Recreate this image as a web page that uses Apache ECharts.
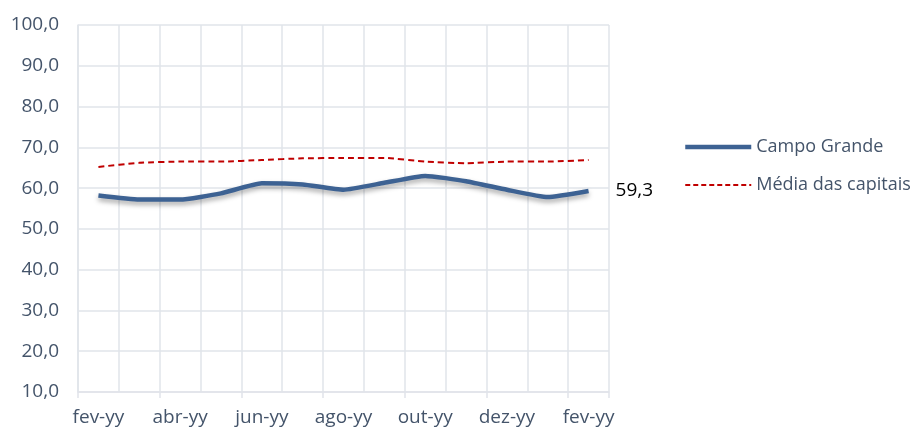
<!DOCTYPE html>
<html><head><meta charset="utf-8">
<script src="https://cdn.jsdelivr.net/npm/echarts@6/dist/echarts.min.js"></script>
<style>html,body{margin:0;padding:0;background:#fff}#c{width:914px;height:430px}</style>
</head><body><div id="c"></div>
<script>
const categories = ['fev-yy','mar-yy','abr-yy','mai-yy','jun-yy','jul-yy','ago-yy','set-yy','out-yy','nov-yy','dez-yy','jan-yy','fev-yy'];
const campoGrande = [58.2, 57.2, 57.2, 58.7, 61.2, 60.9, 59.6, 61.3, 63.0, 61.7, 59.6, 57.8, 59.3];
const mediaCapitais = [65.2, 66.2, 66.5, 66.5, 66.9, 67.3, 67.4, 67.4, 66.5, 66.1, 66.5, 66.5, 66.9];
const yTicks = {min: 10, max: 100, interval: 10};
const fmt = v => Number(v).toFixed(1).replace('.', ',');
const axisColor = '#44546a';
const gridColor = '#e1e4ea';
const chart = echarts.init(document.getElementById('c'));
chart.setOption({
  animation: false,
  textStyle: {fontFamily: 'Open Sans'},
  grid: {left: 78, right: 305, top: 25, bottom: 38, containLabel: false},
  legend: {
    orient: 'vertical', left: 678, top: 133, itemGap: 20,
    itemWidth: 66, itemHeight: 20,
    itemStyle: {opacity: 0},
    textStyle: {color: axisColor, fontSize: 18, fontFamily: 'Open Sans'},
    data: [
      {name: 'Campo Grande', lineStyle: {width: 4.5, color: '#3d6293'}},
      {name: 'Média das capitais', lineStyle: {width: 2, color: '#c00000', type: [5, 3]}}
    ]
  },
  xAxis: {
    type: 'category', data: categories, boundaryGap: true,
    axisLine: {show: true, lineStyle: {color: gridColor, width: 1.5}},
    axisTick: {show: true, interval: 1, length: 6, lineStyle: {color: gridColor, width: 1.5}},
    axisLabel: {interval: 1, color: axisColor, fontSize: 19, margin: 16},
    splitLine: {show: true, interval: 0, lineStyle: {color: gridColor, width: 1.5}}
  },
  yAxis: {
    type: 'value', min: yTicks.min, max: yTicks.max, interval: yTicks.interval,
    axisLine: {show: true, lineStyle: {color: gridColor, width: 1.5}},
    axisTick: {show: false},
    axisLabel: {formatter: fmt, color: axisColor, fontSize: 19, margin: 19},
    splitLine: {show: true, lineStyle: {color: gridColor, width: 1.5}}
  },
  series: [
    {
      name: 'Campo Grande', type: 'line', data: campoGrande, smooth: 0.15,
      symbol: 'none', z: 3,
      lineStyle: {color: '#3d6293', width: 4.5, shadowColor: 'rgba(0,0,0,0.35)', shadowBlur: 5, shadowOffsetY: 3},
      itemStyle: {color: '#3d6293'},
      endLabel: {show: true, formatter: p => fmt(p.value), color: '#000', fontSize: 19, distance: 27}
    },
    {
      name: 'Média das capitais', type: 'line', data: mediaCapitais, smooth: 0.15,
      symbol: 'none', z: 2,
      lineStyle: {color: '#c00000', width: 2, type: [6, 4]},
      itemStyle: {color: '#c00000'}
    }
  ]
});
</script></body></html>
